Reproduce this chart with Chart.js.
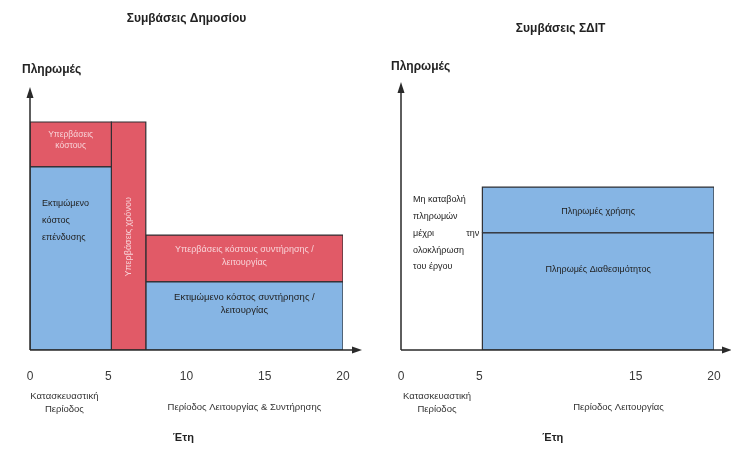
<!DOCTYPE html>
<html>
<head>
<meta charset="utf-8">
<script src="https://cdn.jsdelivr.net/npm/chart.js@4/dist/chart.umd.min.js"></script>
<style>
  body { margin: 0; background: #ffffff; }
  .wrap { position: relative; width: 731px; height: 452px; overflow: hidden; }
  canvas { position: absolute; top: 0; }
</style>
</head>
<body>
<div class="wrap">
  <canvas id="leftChart" width="365" height="452" style="left:0"></canvas>
  <canvas id="rightChart" width="366" height="452" style="left:365px"></canvas>
</div>
<script>
// Public contracts: blocks in years (x) and relative payments (y)
const leftNames = ['Εκτιμώμενο κόστος επένδυσης', 'Υπερβάσεις κόστους', 'Υπερβάσεις χρόνου',
                   'Εκτιμώμενο κόστος συντήρησης / λειτουργίας', 'Υπερβάσεις κόστους συντήρησης / λειτουργίας'];
const leftFrom = [0, 0, 5.2, 7.4, 7.4];
const leftTo = [5.2, 5.2, 7.4, 20, 20];
const leftLow = [0, 70.4, 0, 0, 26.2];
const leftHigh = [70.4, 87.7, 87.7, 26.2, 44.2];
const leftKind = ['estimate', 'overrun', 'overrun', 'estimate', 'overrun'];
const leftTicks = [0, 5, 10, 15, 20];

// PPP contracts
const rightNames = ['Πληρωμές Διαθεσιμότητος', 'Πληρωμές χρήσης'];
const rightFrom = [5.2, 5.2];
const rightTo = [20, 20];
const rightLow = [0, 44.2];
const rightHigh = [44.2, 61.5];
const rightKind = ['estimate', 'estimate'];
const rightTicks = [0, 5, 15, 20];

const BLUE = '#86b5e4';
const RED = '#e15a67';
const EDGE = '#2f2f33';
const FONT = '"Liberation Sans", Arial, sans-serif';

function makeBlocks(from, to, low, high, kind, names) {
    return names.map((name, i) => ({
        label: name,
        data: [
            { x: from[i], y: low[i] },
            { x: from[i], y: high[i] },
            { x: to[i], y: high[i] },
            { x: to[i], y: low[i] },
            { x: from[i], y: low[i] }
        ],
        showLine: true,
        fill: 'shape',
        backgroundColor: kind[i] === 'overrun' ? RED : BLUE,
        borderColor: EDGE,
        borderWidth: 1.2,
        pointRadius: 0,
        tension: 0
    }));
}

// text notes in data units, drawn through the scales
const leftNotes = [
    { lines: ['Υπερβάσεις', 'κόστους'], x: 2.6, y: 80.8, color: '#f8d3d8', size: 8.5, align: 'center', lh: 11 },
    { lines: ['Εκτιμώμενο', 'κόστος', 'επένδυσης'], x: 0.77, y: 56.5, color: '#222', size: 9, align: 'left', lh: 17, top: true },
    { lines: ['Υπερβάσεις χρόνου'], x: 6.3, y: 43.5, color: '#f8d3d8', size: 9, align: 'center', rotate: true },
    { lines: ['Υπερβάσεις κόστους συντήρησης /', 'λειτουργίας'], x: 13.7, y: 36.3, color: '#f8d3d8', size: 9, align: 'center', lh: 13 },
    { lines: ['Εκτιμώμενο κόστος συντήρησης /', 'λειτουργίας'], x: 13.7, y: 17.9, color: '#222', size: 9.5, align: 'center', lh: 13 }
];
const rightNotes = [
    { lines: ['Πληρωμές χρήσης'], x: 12.6, y: 52.1, color: '#222', size: 9, align: 'center' },
    { lines: ['Πληρωμές Διαθεσιμότητος'], x: 12.6, y: 30.2, color: '#222', size: 9, align: 'center' },
    { lines: ['Μη καταβολή', 'πληρωμών', 'μέχρι', 'ολοκλήρωση', 'του έργου'], x: 0.77, y: 56.6, color: '#222', size: 9, align: 'left', lh: 16.7, top: true },
    { lines: ['την'], x: 5.0, y: 56.6 - 2 * 16.7 / 2.65, color: '#222', size: 9, align: 'right', top: true }
];

const diagramPlugin = {
    id: 'diagram',
    afterDatasetsDraw(chart, args, opts) {
        const ctx = chart.ctx;
        const xs = chart.scales.x, ys = chart.scales.y;
        const area = chart.chartArea;
        ctx.save();
        // notes inside the blocks
        opts.notes.forEach(n => {
            const px = xs.getPixelForValue(n.x), py = ys.getPixelForValue(n.y);
            ctx.fillStyle = n.color;
            ctx.font = n.size + 'px ' + FONT;
            ctx.textAlign = n.align;
            const lh = n.lh || 12;
            if (n.rotate) {
                ctx.save();
                ctx.translate(px, py);
                ctx.rotate(-Math.PI / 2);
                ctx.textBaseline = 'middle';
                ctx.fillText(n.lines[0], 0, 0);
                ctx.restore();
                return;
            }
            ctx.textBaseline = 'middle';
            const start = n.top ? py : py - (n.lines.length - 1) * lh / 2;
            n.lines.forEach((t, i) => ctx.fillText(t, px, start + i * lh));
        });
        // axes with arrows
        ctx.strokeStyle = '#2a2a2a';
        ctx.fillStyle = '#2a2a2a';
        ctx.lineWidth = 1.5;
        const x0 = area.left, y0 = area.bottom;
        const yTop = ys.getPixelForValue(100);
        const xEnd = chart.width - opts.arrowGap;
        ctx.beginPath();
        ctx.moveTo(x0, y0);
        ctx.lineTo(x0, yTop + 4);
        ctx.moveTo(x0, y0);
        ctx.lineTo(xEnd - 4, y0);
        ctx.stroke();
        ctx.beginPath();
        ctx.moveTo(x0, yTop - 3);
        ctx.lineTo(x0 - 3.5, yTop + 8);
        ctx.lineTo(x0 + 3.5, yTop + 8);
        ctx.closePath();
        ctx.fill();
        ctx.beginPath();
        ctx.moveTo(xEnd + 2, y0);
        ctx.lineTo(xEnd - 8, y0 - 3.5);
        ctx.lineTo(xEnd - 8, y0 + 3.5);
        ctx.closePath();
        ctx.fill();
        // titles and axis captions
        ctx.fillStyle = '#222';
        ctx.textBaseline = 'middle';
        ctx.font = 'bold 12px ' + FONT;
        ctx.textAlign = 'center';
        ctx.fillText(opts.title, xs.getPixelForValue(opts.titleX), opts.titleY);
        ctx.textAlign = 'left';
        ctx.fillText('Πληρωμές', opts.payX, opts.payY);
        ctx.font = 'bold 11px ' + FONT;
        ctx.textAlign = 'center';
        ctx.fillText('Έτη', xs.getPixelForValue(opts.yearsX), 438);
        ctx.font = '9.5px ' + FONT;
        ctx.fillStyle = '#333';
        ctx.fillText('Κατασκευαστική', xs.getPixelForValue(opts.buildX), 396);
        ctx.fillText('Περίοδος', xs.getPixelForValue(opts.buildX), 409);
        ctx.fillText(opts.operation, xs.getPixelForValue(opts.operationX), 407);
        ctx.restore();
    }
};

function makeChart(id, datasets, ticks, padding, extra) {
    return new Chart(document.getElementById(id), {
        type: 'scatter',
        data: { datasets: datasets },
        options: {
            responsive: false,
            animation: false,
            layout: { padding: padding },
            plugins: {
                legend: { display: false },
                tooltip: { enabled: false },
                diagram: extra
            },
            scales: {
                x: {
                    type: 'linear',
                    min: 0,
                    max: 20,
                    grid: { display: false },
                    border: { display: false },
                    afterBuildTicks: s => { s.ticks = ticks.map(v => ({ value: v })); },
                    afterFit: s => { s.height = 40; s.paddingLeft = 0; s.paddingRight = 0; },
                    ticks: { padding: 11, color: '#3a3a3a', font: { family: FONT, size: 12 } }
                },
                y: { display: false, min: 0, max: 100 }
            }
        },
        plugins: [diagramPlugin]
    });
}

makeChart('leftChart',
    makeBlocks(leftFrom, leftTo, leftLow, leftHigh, leftKind, leftNames),
    leftTicks,
    { left: 30, right: 22, top: 90, bottom: 62 },
    { notes: leftNotes, arrowGap: 5, title: 'Συμβάσεις Δημοσίου', titleX: 10, titleY: 19,
      payX: 22, payY: 70, yearsX: 9.8, buildX: 2.2, operation: 'Περίοδος Λειτουργίας & Συντήρησης', operationX: 13.7 });

makeChart('rightChart',
    makeBlocks(rightFrom, rightTo, rightLow, rightHigh, rightKind, rightNames),
    rightTicks,
    { left: 36, right: 17, top: 85, bottom: 62 },
    { notes: rightNotes, arrowGap: 1, title: 'Συμβάσεις ΣΔΙΤ', titleX: 10.2, titleY: 29,
      payX: 26, payY: 67, yearsX: 9.7, buildX: 2.3, operation: 'Περίοδος Λειτουργίας', operationX: 13.9 });
</script>
</body>
</html>
